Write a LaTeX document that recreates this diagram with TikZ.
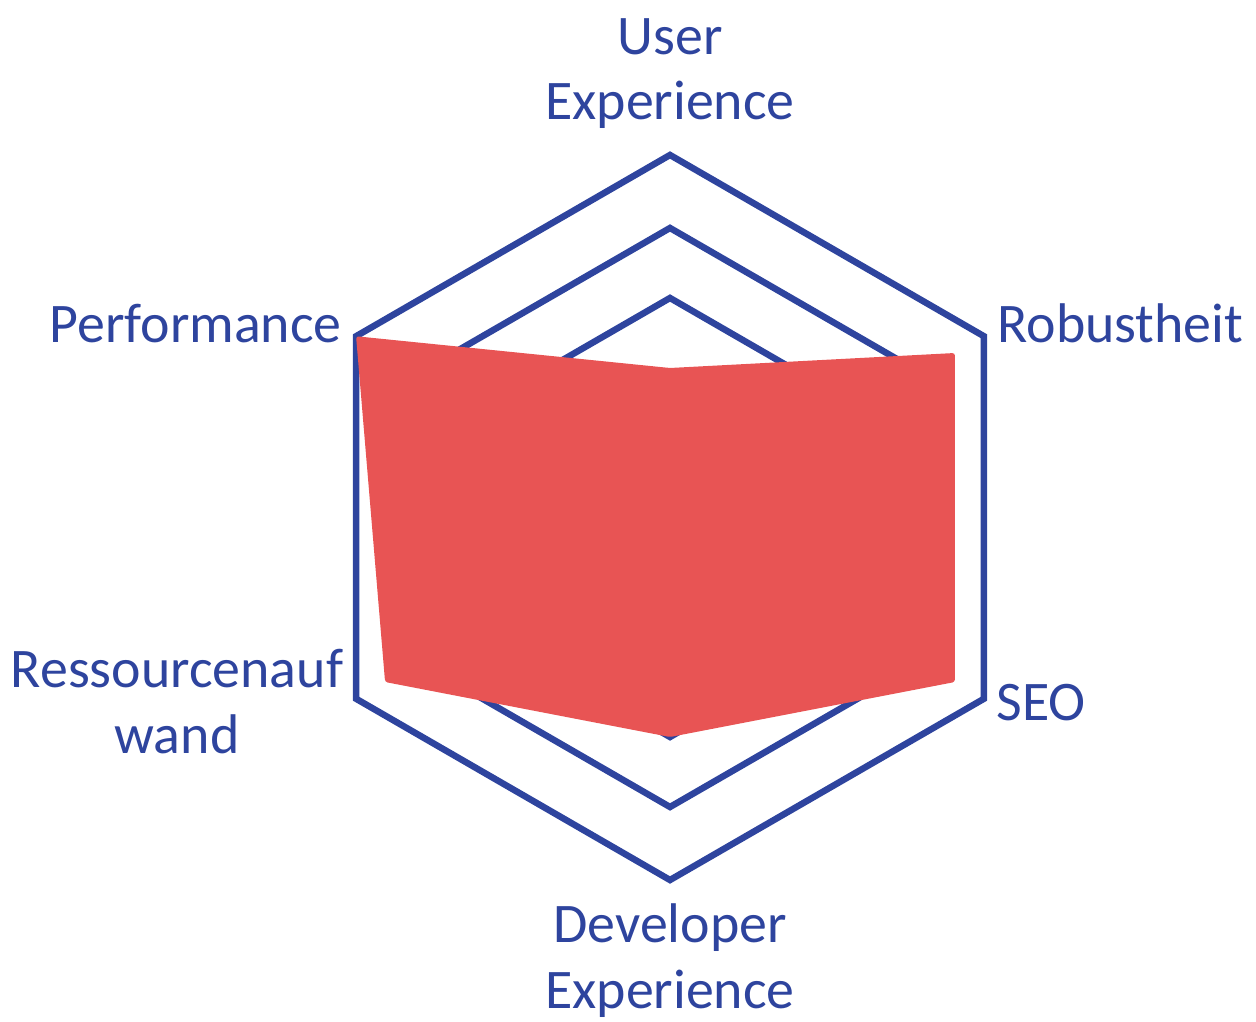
\documentclass[tikz,border=0pt]{standalone}
\usepackage{fontspec}
\setmainfont{Carlito}
\definecolor{axisblue}{RGB}{46,68,158}
\definecolor{scorered}{RGB}{232,84,84}
\begin{document}
\begin{tikzpicture}[x=0.02cm,y=0.02cm,
    axislabel/.style={text=axisblue,font=\fontsize{31.8}{37}\selectfont,align=center,inner sep=0pt},
    grid/.style={draw=axisblue,line width=3.7pt,line join=miter}]
  \useasboundingbox (0,0) rectangle (1256,1021);

  % hexagon grid and scores
  \begin{scope}[shift={(670,503.5)}]
    \draw[grid] (90:362.5) -- (30:362.5) -- (-30:362.5) -- (-90:362.5) -- (-150:362.5) -- (150:362.5) -- cycle;
    \draw[grid] (90:289.5) -- (30:289.5) -- (-30:289.5) -- (-90:289.5) -- (-150:289.5) -- (150:289.5) -- cycle;
    \draw[grid] (90:219.5) -- (30:219.5) -- (-30:219.5) -- (-90:219.5) -- (-150:219.5) -- (150:219.5) -- cycle;
    \fill[scorered,rounded corners=1.5pt] (150:362.5) -- (90:149.5) -- (30:329) -- (-30:329) -- (-90:219.5) -- (-150:329) -- cycle;
  \end{scope}

  % axis labels (base = last line)
  \node[axislabel,anchor=base] (ux) at (670,901) {User\\Experience};
  \node[axislabel,anchor=base east] (perf) at (342,678) {Performance};
  \node[axislabel,anchor=base west] (rob) at (997,678) {Robustheit};
  \node[axislabel,anchor=base] (res) at (177,268) {Ressourcenauf\\wand};
  \node[axislabel,anchor=base west] (seo) at (996,301) {SEO};
  \node[axislabel,anchor=base] (dev) at (670,13) {Developer\\Experience};
\end{tikzpicture}
\end{document}
